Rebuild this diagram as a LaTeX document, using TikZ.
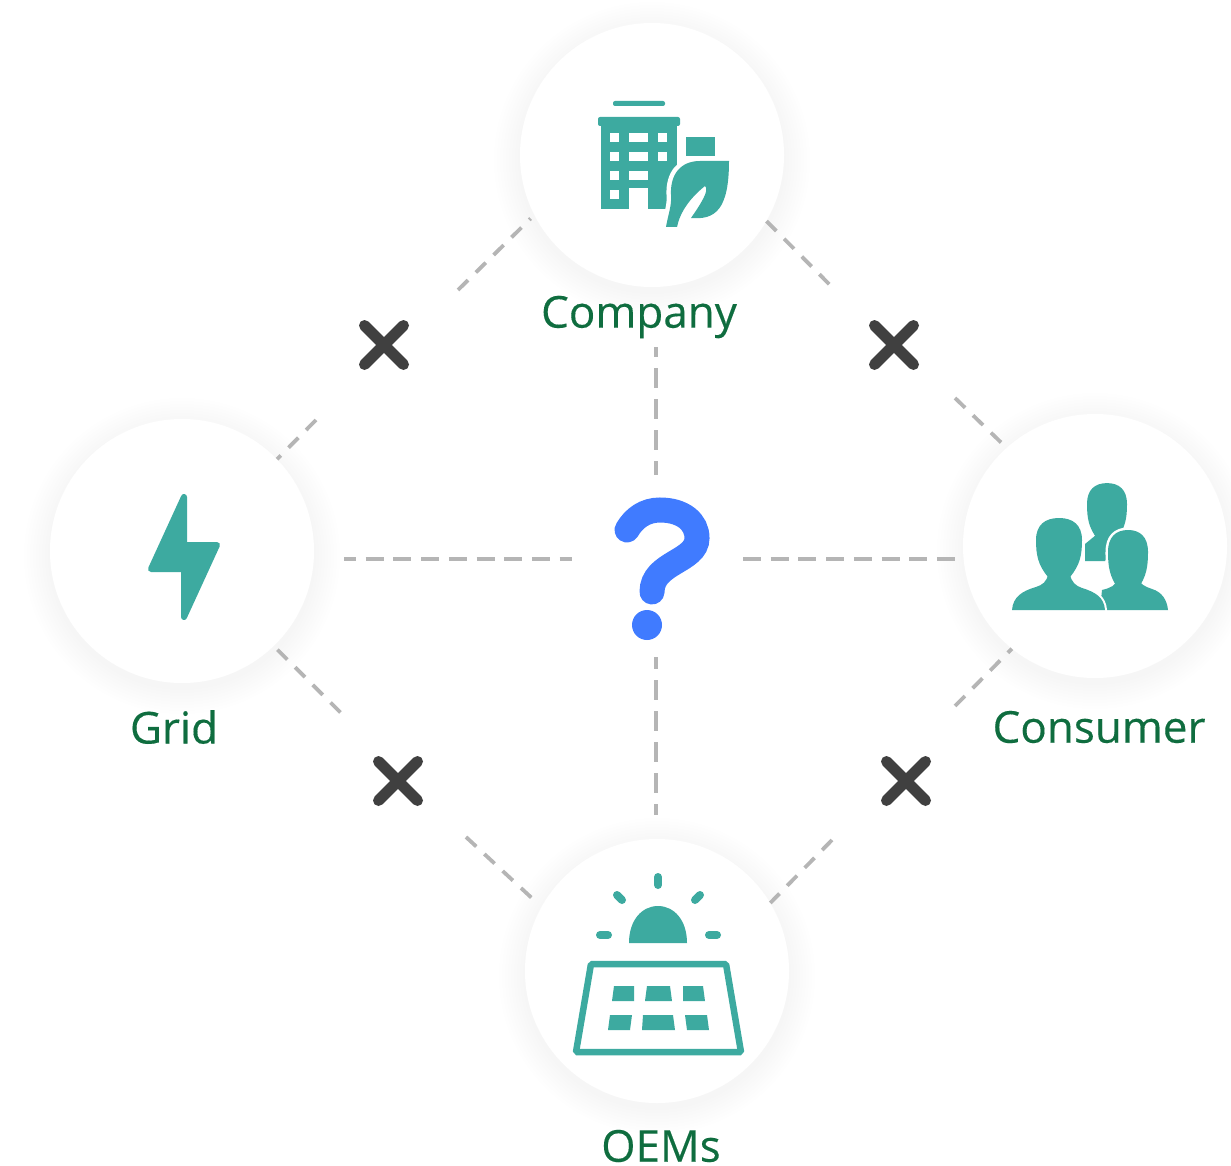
\documentclass[tikz,border=0pt]{standalone}
\usepackage{fontspec}
\setmainfont[FakeBold=0.3]{Open Sans}
\usepackage{tikz}
\usetikzlibrary{shapes.misc, positioning}
\definecolor{iconteal}{HTML}{3DAAA0}
\definecolor{labelgreen}{HTML}{0F6D3F}
\definecolor{dashgray}{HTML}{B5B5B5}
\definecolor{crossgray}{HTML}{404040}
\definecolor{askblue}{HTML}{407BFF}
\tikzstyle{disc} = [circle, fill=white, minimum size=264pt, inner sep=0pt]
\tikzstyle{link} = [dashgray, line width=3.8pt, dash pattern=on 18pt off 9.7pt]
\tikzstyle{uplink} = [dashgray, line width=3.8pt, dash pattern=on 20pt off 11pt]
\tikzstyle{cutlink} = [dashgray, line width=3.8pt, dash pattern=on 14pt off 11pt]
\tikzstyle{nope} = [cross out, draw=crossgray, line width=11pt, line cap=round, minimum size=39pt, inner sep=0pt, outer sep=0pt]
\tikzstyle{caption} = [text=labelgreen, font=\fontsize{44}{50}\selectfont, inner sep=0pt]
\def\leafpath{(729,161) -- (700,161) .. controls (680,161) and (670,175) .. (671,195)
    .. controls (672,205) and (668,215) .. (666,227) -- (677,227) .. controls (680,212) and (690,198) .. (705,186)
    .. controls (710,190) and (700,205) .. (691,218) .. controls (715,220) and (729,210) .. cycle}
\def\rightbody{(1102,590) .. controls (1110,588) and (1116,586) .. (1118,578) -- (1138,578) .. controls (1139,584) and (1146,587) .. (1152,589)
    .. controls (1162,592) and (1167,600) .. (1168,610) -- (1100,610) -- cycle}
\def\leftbody{(1012,610) .. controls (1013,597) and (1022,591) .. (1036,587) .. controls (1042,585) and (1047,582) .. (1048,574) -- (1070,574)
    .. controls (1071,582) and (1076,586) .. (1082,588) .. controls (1095,592) and (1104,597) .. (1105,610) -- cycle}
\def\headpath{(-23,0) .. controls (-23,-15) and (-14,-22) .. (0,-22) .. controls (14,-22) and (23,-15) .. (23,0)
    .. controls (23,15) and (21,25) .. (11,37) -- (-11,37) .. controls (-21,25) and (-23,15) .. cycle}

\begin{document}
\begin{tikzpicture}[x=1pt, y=-1pt,
    icon/.style={fill=iconteal},
    gap/.style={fill=white},
    ray/.style={draw=iconteal, line width=8pt, line cap=round},
]
\useasboundingbox (0,0) rectangle (1231,1166);

% Soft shadows
\foreach \cx/\cy in {652/155, 1095/546, 657/971, 182/551} {
    \foreach \r in {134,137,...,158} {
        \fill[black, opacity=0.0045] (\cx,\cy+5) circle [radius=\r pt];
    }
}

% Discs
\node[disc] (company) at (652,155) {};
\node[disc] (consumer) at (1095,546) {};
\node[disc] (oems) at (657,971) {};
\node[disc] (grid) at (182,551) {};

% Labels
\node[caption] (companylabel) at (639,317) {Company};
\node[caption] (gridlabel) at (174,727) {Grid};
\node[caption] (consumerlabel) at (1099,727) {Consumer};
\node[caption] (oemslabel) at (661,1146) {OEMs};

% Crosses
\node[nope] (crossnw) at (384,345) {};
\node[nope] (crossne) at (894,345) {};
\node[nope] (crosssw) at (398,781) {};
\node[nope] (crossse) at (906,781) {};

% Free ends of the broken links
\coordinate (nwa) at (458,290);
\coordinate (nwb) at (316,420);
\coordinate (nea) at (832,287);
\coordinate (neb) at (955,398);
\coordinate (swa) at (345,717);
\coordinate (swb) at (466,837);
\coordinate (sea) at (955,706);
\coordinate (seb) at (832,840);

% Free ends of the links to the centre
\coordinate (askn) at (656,475);
\coordinate (asks) at (656,657);
\coordinate (askw) at (572,559);
\coordinate (aske) at (743,559);
\coordinate (fromcompany) at (656,347);
\coordinate (fromoems) at (656,815);
\coordinate (fromgrid) at (344,559);
\coordinate (fromconsumer) at (955,559);

% Broken links
\draw[cutlink, shorten >=5pt] (nwa) -- (company.207);
\draw[cutlink] (nwb) -- (grid.44);
\draw[cutlink] (company.330) -- (nea);
\draw[cutlink, shorten >=5pt] (neb) -- (consumer.132);
\draw[cutlink, shorten <=5pt] (grid.314) -- (swa);
\draw[cutlink, shorten >=5pt] (swb) -- (oems.151);
\draw[cutlink] (sea) -- (consumer.231);
\draw[cutlink] (seb) -- (oems.31);

% Links to the centre
\draw[uplink, dash phase=10pt] (fromcompany) -- (askn);
\draw[uplink, dash phase=8pt] (asks) -- (fromoems);
\draw[link, dash phase=6pt] (fromgrid) -- (askw);
\draw[link] (aske) -- (fromconsumer);

% Question mark
\draw[askblue, line width=25pt, line cap=round] (627,530) .. controls (634,518) and (645,510) .. (660,510)
    .. controls (683,510) and (697,522) .. (697,538) .. controls (697,562) and (652,562) .. (652,592);
\fill[askblue] (647,625) circle [radius=15pt];

% Company icon
\fill[icon, rounded corners=2pt] (613,101) rectangle (665,106);
\fill[icon, rounded corners=2pt] (598,117) rectangle (680,126);
\fill[icon] (601,124) rectangle (677,209);
\fill[gap] (629,188) rectangle (648,210);
\foreach \wx/\wy/\ww in {610/133/9, 629/133/19, 658/133/9, 610/152/9, 629/152/19, 658/152/9, 610/171/9, 629/171/19, 610/190/9} {
    \fill[gap] (\wx,\wy) rectangle ++(\ww,9);
}
\fill[icon] (686,137) rectangle (715,156);
\draw[white, line width=9pt] \leafpath;
\fill[icon] \leafpath;

% Consumer icon
\begin{scope}[shift={(1107,504)}, xscale=.87, yscale=.95]
    \fill[icon] \headpath;
\end{scope}
\fill[icon] (1096,525) -- (1118,525) -- (1118,540) -- (1105,561) -- (1085,561) -- (1085,544) -- (1096,535) -- cycle;
\begin{scope}[shift={(1128,552)}, xscale=.87]
    \draw[white, line width=5pt] \headpath;
\end{scope}
\draw[white, line width=5pt] \rightbody;
\begin{scope}[shift={(1128,552)}, xscale=.87]
    \fill[icon] \headpath;
\end{scope}
\fill[icon] \rightbody;
\begin{scope}[shift={(1059,540)}]
    \draw[white, line width=4pt] \headpath;
\end{scope}
\draw[white, line width=4pt] \leftbody;
\begin{scope}[shift={(1059,540)}]
    \fill[icon] \headpath;
\end{scope}
\fill[icon] \leftbody;

% OEMs icon
\fill[icon] (629,943) .. controls (629,920) and (642,906) .. (658,906) .. controls (674,906) and (687,920) .. (687,943) -- cycle;
\draw[ray] (658,877) -- (658,885);
\draw[ray] (617,895) -- (622,900);
\draw[ray] (700,895) -- (695,900);
\draw[ray] (600,935) -- (608,935);
\draw[ray] (709,935) -- (717,935);
\draw[draw=iconteal, line width=6.5pt, rounded corners=1.5pt] (591,964) -- (726,964) -- (741,1052) -- (576,1052) -- cycle;
\foreach \xa/\xb/\xc/\xd/\yc in {614/634/634/612/986, 647/670/672/645/986, 683/703/705/683/986,
                                 610/632/630/608/1015, 643/673/675/642/1015, 685/707/709/687/1015} {
    \fill[icon] (\xa,\yc) -- (\xb,\yc) -- (\xc,\yc+15) -- (\xd,\yc+15) -- cycle;
}

% Grid icon
\filldraw[icon, draw=iconteal, line width=6pt, line join=round] (184,497) -- (184,545) -- (217,545) -- (184,617) -- (184,569) -- (151,569) -- cycle;

\end{tikzpicture}
\end{document}
